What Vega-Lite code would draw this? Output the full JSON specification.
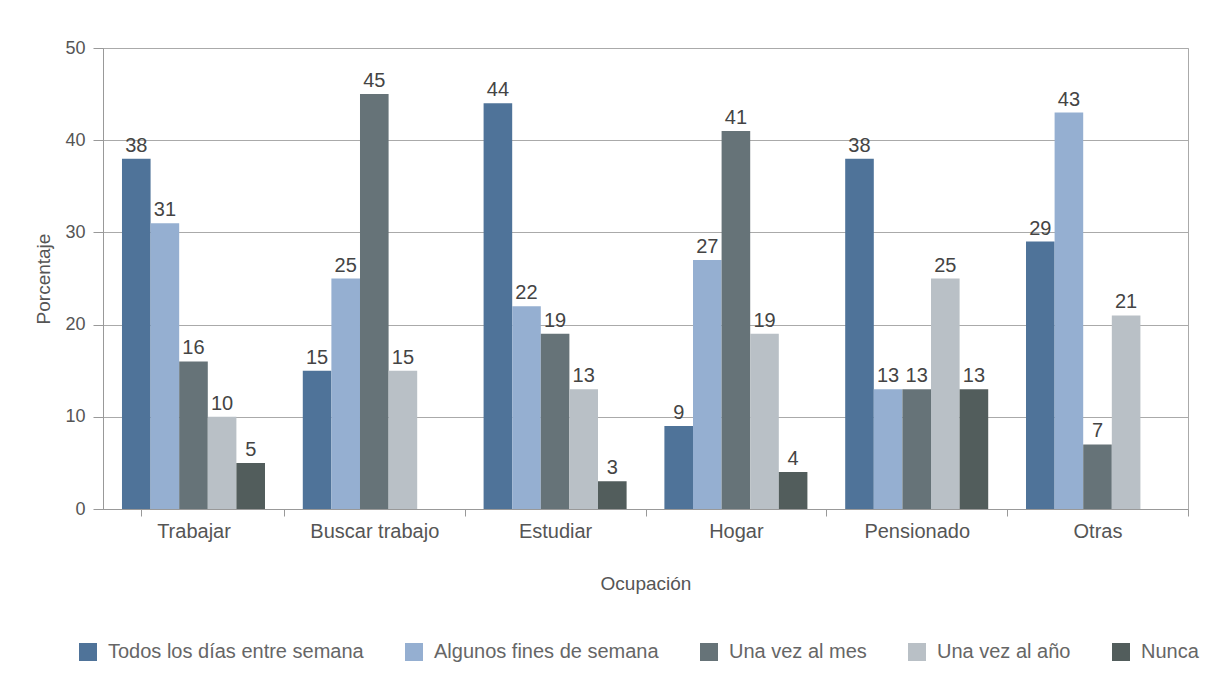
{
  "$schema": "https://vega.github.io/schema/vega-lite/v6.json",
  "width": 1085,
  "height": 461,
  "autosize": {"type": "none"},
  "padding": {"left": 103, "top": 48, "right": 39, "bottom": 186},
  "background": "white",
  "config": {
    "font": "Liberation Sans",
    "view": {"stroke": "#aaaaaa"}
  },
  "data": {
    "values": [
      {"ocupacion": "Trabajar", "frecuencia": "Todos los días entre semana", "pct": 38},
      {"ocupacion": "Trabajar", "frecuencia": "Algunos fines de semana", "pct": 31},
      {"ocupacion": "Trabajar", "frecuencia": "Una vez al mes", "pct": 16},
      {"ocupacion": "Trabajar", "frecuencia": "Una vez al año", "pct": 10},
      {"ocupacion": "Trabajar", "frecuencia": "Nunca", "pct": 5},
      {"ocupacion": "Buscar trabajo", "frecuencia": "Todos los días entre semana", "pct": 15},
      {"ocupacion": "Buscar trabajo", "frecuencia": "Algunos fines de semana", "pct": 25},
      {"ocupacion": "Buscar trabajo", "frecuencia": "Una vez al mes", "pct": 45},
      {"ocupacion": "Buscar trabajo", "frecuencia": "Una vez al año", "pct": 15},
      {"ocupacion": "Estudiar", "frecuencia": "Todos los días entre semana", "pct": 44},
      {"ocupacion": "Estudiar", "frecuencia": "Algunos fines de semana", "pct": 22},
      {"ocupacion": "Estudiar", "frecuencia": "Una vez al mes", "pct": 19},
      {"ocupacion": "Estudiar", "frecuencia": "Una vez al año", "pct": 13},
      {"ocupacion": "Estudiar", "frecuencia": "Nunca", "pct": 3},
      {"ocupacion": "Hogar", "frecuencia": "Todos los días entre semana", "pct": 9},
      {"ocupacion": "Hogar", "frecuencia": "Algunos fines de semana", "pct": 27},
      {"ocupacion": "Hogar", "frecuencia": "Una vez al mes", "pct": 41},
      {"ocupacion": "Hogar", "frecuencia": "Una vez al año", "pct": 19},
      {"ocupacion": "Hogar", "frecuencia": "Nunca", "pct": 4},
      {"ocupacion": "Pensionado", "frecuencia": "Todos los días entre semana", "pct": 38},
      {"ocupacion": "Pensionado", "frecuencia": "Algunos fines de semana", "pct": 13},
      {"ocupacion": "Pensionado", "frecuencia": "Una vez al mes", "pct": 13},
      {"ocupacion": "Pensionado", "frecuencia": "Una vez al año", "pct": 25},
      {"ocupacion": "Pensionado", "frecuencia": "Nunca", "pct": 13},
      {"ocupacion": "Otras", "frecuencia": "Todos los días entre semana", "pct": 29},
      {"ocupacion": "Otras", "frecuencia": "Algunos fines de semana", "pct": 43},
      {"ocupacion": "Otras", "frecuencia": "Una vez al mes", "pct": 7},
      {"ocupacion": "Otras", "frecuencia": "Una vez al año", "pct": 21}
    ]
  },
  "encoding": {
    "x": {
      "field": "ocupacion",
      "type": "nominal",
      "sort": ["Trabajar", "Buscar trabajo", "Estudiar", "Hogar", "Pensionado", "Otras"],
      "scale": {"paddingInner": 0.209, "paddingOuter": 0.105},
      "axis": {
        "title": "Ocupación",
        "labelAngle": 0,
        "labelFontSize": 20,
        "labelColor": "#555555",
        "labelPadding": 5,
        "bandPosition": 1,
        "tickExtra": true,
        "tickOffset": 19,
        "labelOffset": -19,
        "tickSize": 7,
        "tickColor": "#999999",
        "domainColor": "#999999",
        "titleFontSize": 19,
        "titleFontWeight": "normal",
        "titleColor": "#555555",
        "titlePadding": 33
      }
    },
    "xOffset": {
      "field": "frecuencia",
      "type": "nominal",
      "sort": ["Todos los días entre semana", "Algunos fines de semana", "Una vez al mes", "Una vez al año", "Nunca"],
      "scale": {"paddingInner": 0, "paddingOuter": 0}
    },
    "y": {
      "field": "pct",
      "type": "quantitative",
      "scale": {"domain": [0, 50]},
      "axis": {
        "title": "Porcentaje",
        "values": [0, 10, 20, 30, 40, 50],
        "labelFontSize": 18,
        "labelColor": "#555555",
        "labelPadding": 8,
        "tickSize": 10,
        "tickColor": "#999999",
        "domain": true,
        "domainColor": "#999999",
        "gridColor": "#aaaaaa",
        "titleFontSize": 19,
        "titleFontWeight": "normal",
        "titleColor": "#555555",
        "titlePadding": 11
      }
    }
  },
  "layer": [
    {
      "mark": {"type": "bar"},
      "encoding": {
        "color": {
          "field": "frecuencia",
          "type": "nominal",
          "sort": ["Todos los días entre semana", "Algunos fines de semana", "Una vez al mes", "Una vez al año", "Nunca"],
          "scale": {
            "domain": ["Todos los días entre semana", "Algunos fines de semana", "Una vez al mes", "Una vez al año", "Nunca"],
            "range": ["#4f7399", "#95afd1", "#667378", "#b9c0c6", "#525d5c"]
          },
          "legend": {
            "title": null,
            "orient": "none",
            "direction": "horizontal",
            "legendX": -25,
            "legendY": 594,
            "symbolType": "square",
            "symbolSize": 324,
            "symbolStrokeWidth": 0,
            "labelFontSize": 20,
            "labelColor": "#666666",
            "labelOffset": 10,
            "columnPadding": 40,
            "labelLimit": 400
          }
        }
      }
    },
    {
      "mark": {"type": "text", "baseline": "bottom", "dy": -3, "fontSize": 20, "color": "#444444"},
      "encoding": {
        "text": {"field": "pct", "type": "quantitative"}
      }
    }
  ]
}
